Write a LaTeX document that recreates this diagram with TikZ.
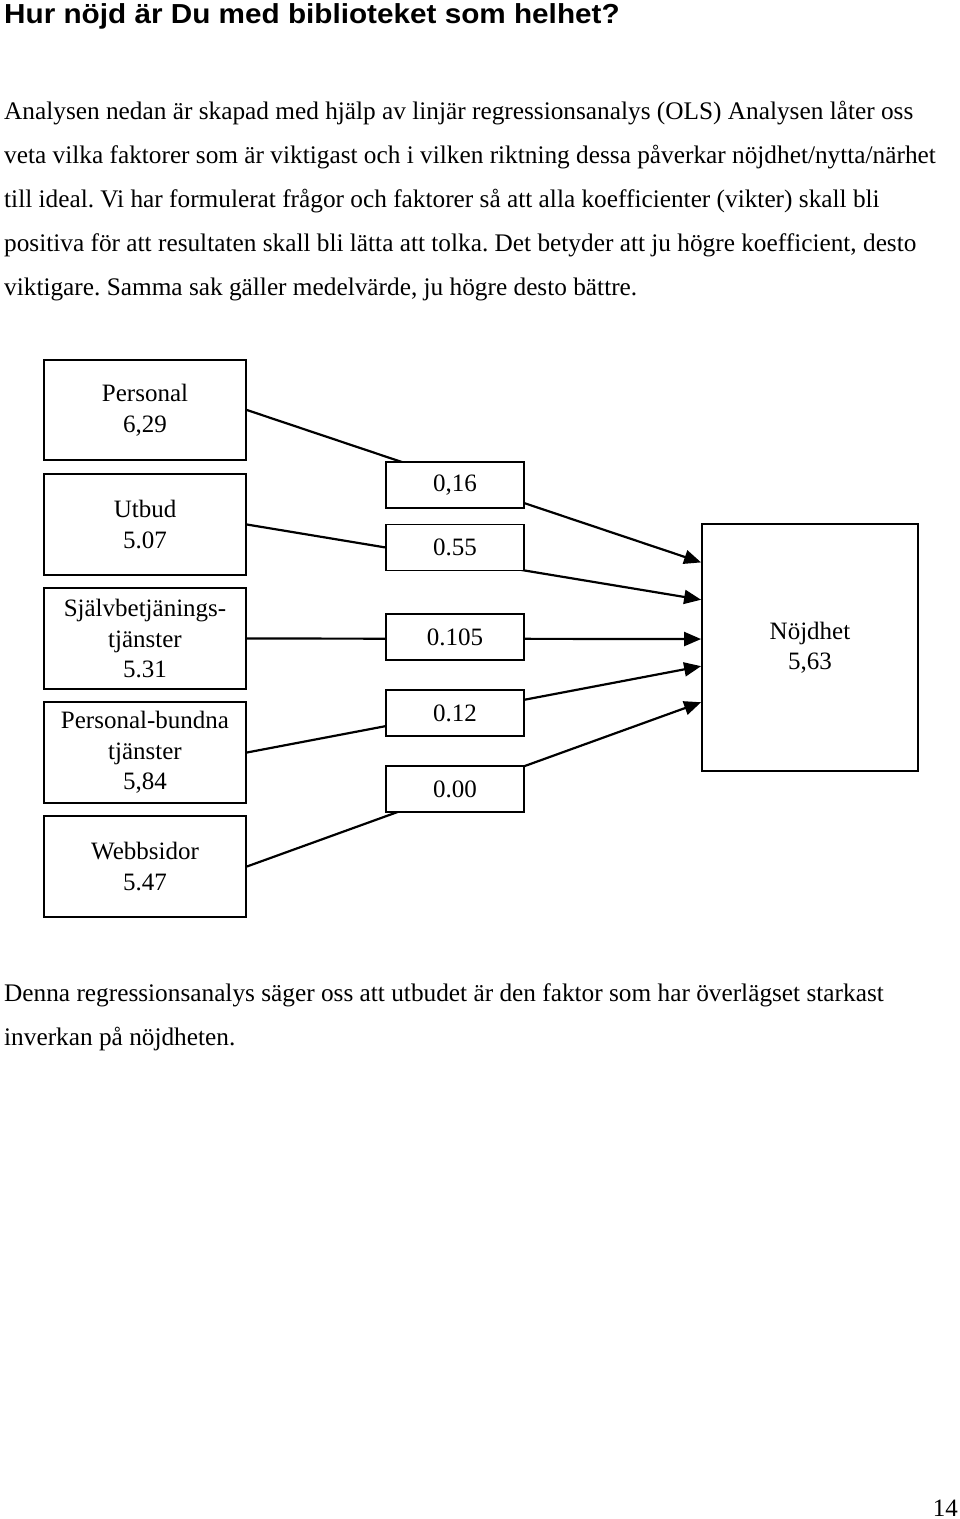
\documentclass[tikz,border=0pt]{standalone}
\usepackage{fontspec}
\setmainfont{Liberation Serif}
\newfontfamily\titlefont[FakeStretch=1.08]{Liberation Sans}
\usetikzlibrary{arrows.meta,calc}
\frenchspacing
\begin{document}
\begin{tikzpicture}[x=1pt,y=-1pt,
  txt/.style={anchor=base west,inner sep=0pt,font=\frenchspacing\fontsize{25.3}{30}\selectfont},
  factor/.style={draw,line width=1.8pt,fill=white,minimum width=202pt,minimum height=101pt,inner sep=0pt,align=center,font=\fontsize{25}{30.5}\selectfont},
  coef/.style={draw,line width=1.8pt,fill=white,minimum width=138pt,minimum height=46pt,inner sep=0pt,align=center,font=\fontsize{25}{30}\selectfont},
  link/.style={line width=2.2pt,-{Triangle[length=17pt,width=14pt]}}]
\useasboundingbox[fill=white] (0,0) rectangle (960,1519);
% title and text
\node[anchor=base west,inner sep=0pt,font=\titlefont\bfseries\fontsize{27.5}{30}\selectfont] (title) at (4,23) {Hur nöjd är Du med biblioteket som helhet?};
\node[txt] (l1) at (4,119) {Analysen nedan är skapad med hjälp av linjär regressionsanalys (OLS) Analysen låter oss};
\node[txt] (l2) at (4,163) {veta vilka faktorer som är viktigast och i vilken riktning dessa påverkar nöjdhet/nytta/närhet};
\node[txt] (l3) at (4,207) {till ideal. Vi har formulerat frågor och faktorer så att alla koefficienter (vikter) skall bli};
\node[txt] (l4) at (4,251) {positiva för att resultaten skall bli lätta att tolka. Det betyder att ju högre koefficient, desto};
\node[txt] (l5) at (4,295) {viktigare. Samma sak gäller medelvärde, ju högre desto bättre.};
% factor boxes
\node[factor,minimum height=100pt] (pers) at (145,410) {Personal\\6,29};
\node[factor] (utb) at (145,524.5) {Utbud\\5.07};
\node[factor] (sjv) at (145,638.5) {Självbetjänings-\\tjänster\\5.31};
\node[factor] (pbt) at (145,752.5) {Personal-bundna\\tjänster\\5,84};
\node[factor] (web) at (145,866.5) {Webbsidor\\5.47};
\node[factor,minimum width=216pt,minimum height=247pt] (noj) at (810,647.5) {Nöjdhet\\5,63};
% arrow targets on the left side of Nöjdhet
\coordinate (t1) at ($(noj.north west)!0.158!(noj.south west)$);
\coordinate (t2) at ($(noj.north west)!0.308!(noj.south west)$);
\coordinate (t3) at ($(noj.north west)!0.466!(noj.south west)$);
\coordinate (t4) at ($(noj.north west)!0.575!(noj.south west)$);
\coordinate (t5) at ($(noj.north west)!0.72!(noj.south west)$);
\draw[link] (pers.east) -- (t1);
\draw[link] (utb.east) -- (t2);
\draw[link] (sjv.east) -- (t3);
\draw[link] (pbt.east) -- (t4);
\draw[link] (web.east) -- (t5);
% coefficient boxes
\node[coef] (c1) at (455,485) {0,16};
\node[coef] (c2) at (455,547.5) {0.55};
\node[coef] (c3) at (455,637) {0.105};
\node[coef] (c4) at (455,713) {0.12};
\node[coef] (c5) at (455,789) {0.00};
% conclusion
\node[txt] (f1) at (4,1001) {Denna regressionsanalys säger oss att utbudet är den faktor som har överlägset starkast};
\node[txt] (f2) at (4,1045) {inverkan på nöjdheten.};
\node[anchor=base east,inner sep=0pt,font=\fontsize{25}{30}\selectfont] (page) at (958,1516) {14};
\end{tikzpicture}
\end{document}
